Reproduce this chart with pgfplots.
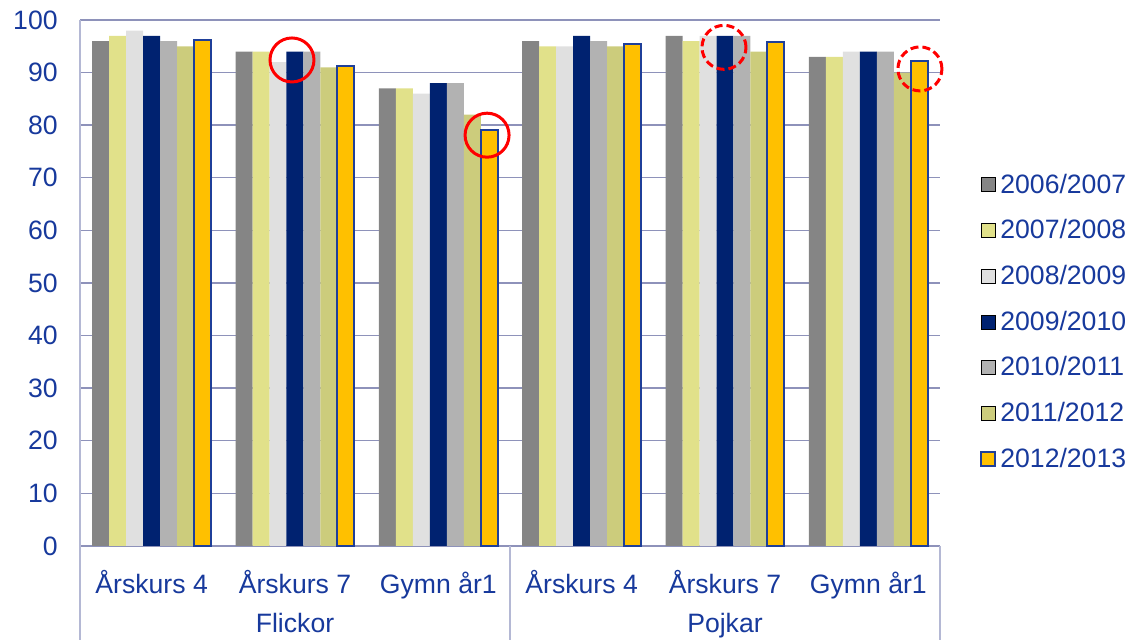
\documentclass[border=0pt]{standalone}
\usepackage{pgfplots}
\usepackage{pgfplotstable}
\pgfplotsset{compat=1.18}
\usepackage{fontspec}
\setmainfont{Liberation Sans}
\definecolor{cA}{HTML}{858585}
\definecolor{cB}{HTML}{E1E18A}
\definecolor{cC}{HTML}{E0E0E0}
\definecolor{cD}{HTML}{002270}
\definecolor{cE}{HTML}{B2B2B2}
\definecolor{cF}{HTML}{CCCC7C}
\definecolor{cG}{HTML}{FFC000}
\definecolor{cGb}{HTML}{1F3F99}
\definecolor{txt}{HTML}{17399C}
\definecolor{gridc}{HTML}{8E92BA}
\definecolor{sepc}{HTML}{B4B8D4}
\pgfplotstableread{
x s1 s2 s3 s4 s5 s6 s7
0 96 97 98 97 96 95 96.2
1 94 94 92 94 94 91 91.2
2 87 87 86 88 88 82 79
3 96 95 95 97 96 95 95.5
4 97 96 97 97 97 94 95.8
5 93 93 94 94 94 90 92.2
}\data
\begin{document}
\begin{tikzpicture}
\path[use as bounding box] (-40pt,-47pt) rectangle (525pt,273pt);
\begin{axis}[
  at={(0pt,0pt)}, anchor=south west,
  scale only axis, width=430pt, height=263pt,
  ybar=0pt, bar width=0.1186,
  xmin=-0.5, xmax=5.5, ymin=0, ymax=100,
  enlarge x limits=false,
  xtick={0,1,2,3,4,5},
  xticklabels={Årskurs 4,Årskurs 7,Gymn år1,Årskurs 4,Årskurs 7,Gymn år1},
  ytick={0,10,...,100},
  axis line style={draw=none},
  tick style={draw=none},
  ymajorgrids, grid style={gridc, line width=0.7pt},
  /pgf/number format/assume math mode=true,
  tick label style={font=\fontsize{13.3}{16}\selectfont, text=txt},
  yticklabel style={anchor=east, inner sep=0pt, xshift=-11pt},
  xticklabel style={anchor=base, inner sep=0pt, yshift=-19.5pt},
  clip=false,
  legend style={draw=none, fill=none, at={(rel axis cs:1.0465,0.426)}, anchor=west,
    font=\fontsize{13.3}{16}\selectfont, text=txt, row sep=7.7pt, inner sep=0pt,
    /tikz/every even column/.append style={column sep=3pt}},
  legend cell align=left,
  legend image code/.code={\draw[#1] (0pt,-3.5pt) rectangle (7pt,3.5pt);},
]
\addplot[fill=cA, draw=none] table[x=x,y=s1] {\data};
\addplot[fill=cB, draw=none] table[x=x,y=s2] {\data};
\addplot[fill=cC, draw=none] table[x=x,y=s3] {\data};
\addplot[fill=cD, draw=none] table[x=x,y=s4] {\data};
\addplot[fill=cE, draw=none] table[x=x,y=s5] {\data};
\addplot[fill=cF, draw=none] table[x=x,y=s6] {\data};
\addplot[fill=cG, draw=cGb, line width=1pt] table[x=x,y=s7] {\data};
\legend{2006/2007,2007/2008,2008/2009,2009/2010,2010/2011,2011/2012,2012/2013}
\draw[sepc, line width=0.7pt] (axis cs:-0.5,100) -- ([yshift=-50pt]axis cs:-0.5,0);
\draw[sepc, line width=0.7pt] (axis cs:2.5,0) -- ([yshift=-50pt]axis cs:2.5,0);
\draw[sepc, line width=0.7pt] (axis cs:5.5,0) -- ([yshift=-50pt]axis cs:5.5,0);
\node[anchor=base, text=txt, font=\fontsize{13.3}{16}\selectfont, inner sep=0pt] at ([yshift=-43.5pt]axis cs:1,0) {Flickor};
\node[anchor=base, text=txt, font=\fontsize{13.3}{16}\selectfont, inner sep=0pt] at ([yshift=-43.5pt]axis cs:4,0) {Pojkar};
\draw[red, line width=1.5pt] (axis cs:0.979,92.4) circle[radius=11pt];
\draw[red, line width=1.5pt] (axis cs:2.34,78.1) circle[radius=11pt];
\draw[red, line width=1.5pt, dash pattern=on 4pt off 2pt] (axis cs:3.993,94.8) circle[radius=11pt];
\draw[red, line width=1.5pt, dash pattern=on 4pt off 2pt] (axis cs:5.36,90.7) circle[radius=11pt];
\end{axis}
\end{tikzpicture}
\end{document}
